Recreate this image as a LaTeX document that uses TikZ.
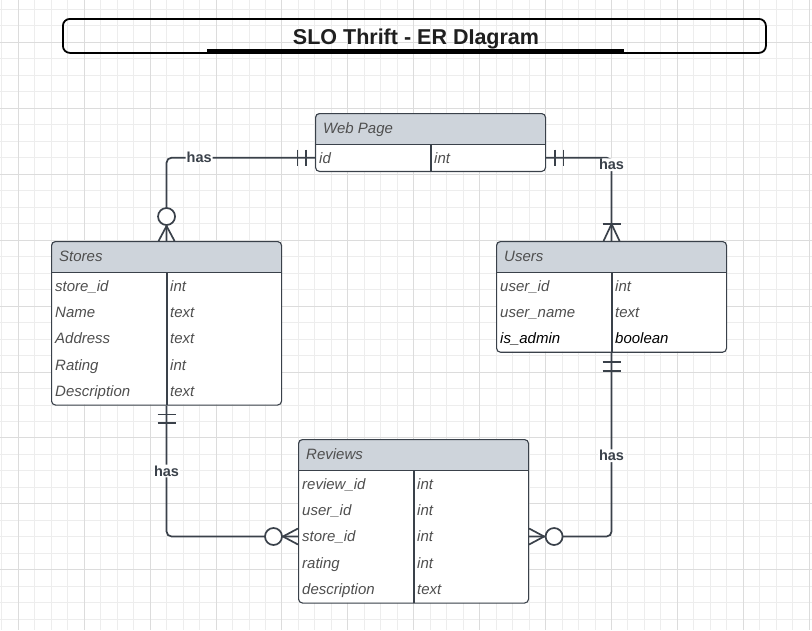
\documentclass[tikz,border=0pt]{standalone}
\usepackage{fontspec}
\setmainfont{Liberation Sans}
\usetikzlibrary{calc}
\definecolor{ln}{HTML}{3A414A}
\definecolor{hdr}{HTML}{CED4DB}
\definecolor{txt}{HTML}{4F4F4F}
\definecolor{gmin}{HTML}{EDEDED}
\definecolor{gmaj}{HTML}{DCDCDC}

\newcommand{\ERent}[6]{%
  \pgfmathsetmacro\enth{31.5+26.4*#4}%
  \begin{scope}
    \clip[rounded corners=4pt] (#2,#3) rectangle ++(230,\enth);
    \fill[white] (#2,#3) rectangle ++(230,\enth);
    \fill[hdr] (#2,#3) rectangle ++(230,31.5);
  \end{scope}
  \node[entity, minimum width=230pt, minimum height=\enth pt] (#1) at (#2,#3) {};
  \draw[ln, line width=1.1pt] (#2,#3+31.5) -- ++(230,0);
  \draw[ln, line width=1.1pt] (#2+116,#3+31.5) -- (#2+116,#3+\enth);
  \node[fld] (#1-title) at (#2+8,#3+15.5+5.3) {#5};
  \foreach \fn/\ft [count=\i] in {#6} {
    \node[fld] (#1-f\i) at (#2+4, #3+31.5+26.4*\i-13.2+5.3) {\fn};
    \node[fld] (#1-t\i) at (#2+119, #3+31.5+26.4*\i-13.2+5.3) {\ft};
  }%
}

\begin{document}
\begin{tikzpicture}[x=1pt,y=-1pt,
  conn/.style={draw=ln, line width=1.7pt, rounded corners=5pt},
  endmark/.style={draw=ln, line width=1.7pt},
  lbl/.style={font=\fontsize{14.5}{17}\selectfont\bfseries, text=ln, fill=white, inner sep=1pt},
  entity/.style={draw=ln, line width=1.1pt, rounded corners=4pt, anchor=north west, inner sep=0pt},
  fld/.style={font=\fontsize{15}{18}\selectfont\itshape, text=txt, anchor=base west, inner sep=0pt},
]
\useasboundingbox (0,0) rectangle (812,630);
\fill[white] (0,0) rectangle (812,630);
% grid
\foreach \k in {0,...,49} {\draw[gmin, line width=0.9pt] ({1.8+16.477*\k},0) -- ({1.8+16.477*\k},630);}
\foreach \k in {0,...,37} {\draw[gmin, line width=0.9pt] (0,{9.3+16.486*\k}) -- (812,{9.3+16.486*\k});}
\foreach \m in {0,...,12} {\draw[gmaj, line width=1pt] ({18.3+65.91*\m},0) -- ({18.3+65.91*\m},630);}
\foreach \m in {0,...,8} {\draw[gmaj, line width=1pt] (0,{42.3+65.94*\m}) -- (812,{42.3+65.94*\m});}

% title
\node[draw=black, line width=1.8pt, rounded corners=7pt, minimum width=703pt, minimum height=34pt, anchor=north west, inner sep=0pt] (titlebox) at (62,18) {};
\node[font=\fontsize{21.5}{26}\selectfont\bfseries, text=black!88, anchor=base, inner sep=0pt] (title) at (416,44) {SLO Thrift - ER DIagram};
\draw[black, line width=2.5pt] (207,50.3) -- (624,50.3);

% entities
\ERent{web}{315}{113}{1}{Web Page}{id/int}
\ERent{stores}{51}{241}{5}{Stores}{store\_id/int, Name/text, Address/text, Rating/int, Description/text}
\ERent{users}{496}{241}{3}{Users}{user\_id/int, user\_name/text, {\color{black}is\_admin}/{\color{black}boolean}}
\ERent{rev}{298}{439}{5}{Reviews}{review\_id/int, user\_id/int, store\_id/int, rating/int, description/text}

\coordinate (wpL) at ($(web-f1.base west -| web.west)+(0,-5.3)$);
\coordinate (wpR) at ($(web-f1.base west -| web.east)+(0,-5.3)$);
\coordinate (revL) at ($(rev-f3.base west -| rev.west)+(0,-5.3)$);
\coordinate (revR) at ($(rev-f3.base west -| rev.east)+(0,-5.3)$);

% connectors
\draw[conn] (wpL) -| node[lbl, pos=0.39]{has} (stores.north);
\draw[conn] (wpR) -| node[lbl, pos=0.5, yshift=-7pt]{has} (users.north);
\draw[conn] (stores.south) |- node[lbl, pos=0.25]{has} (revL);
\draw[conn] (users.south) |- node[lbl, pos=0.28]{has} (revR);

% ends: web page left (one and only one)
\draw[endmark] ($(wpL)+(-9,-8)$) -- ++(0,16);
\draw[endmark] ($(wpL)+(-17.5,-8)$) -- ++(0,16);
% web page right
\draw[endmark] ($(wpR)+(9,-8)$) -- ++(0,16);
\draw[endmark] ($(wpR)+(17.5,-8)$) -- ++(0,16);
% stores top (zero or many)
\draw[endmark] ($(stores.north)+(-8,0)$) -- ($(stores.north)+(0,-15)$) -- ($(stores.north)+(8,0)$);
\draw[endmark, fill=white] ($(stores.north)+(0,-24.5)$) circle[radius=8.5pt];
% users top (one or many)
\draw[endmark] ($(users.north)+(-8,0)$) -- ($(users.north)+(0,-17)$) -- ($(users.north)+(8,0)$);
\draw[endmark] ($(users.north)+(-9,-17)$) -- ++(18,0);
% stores bottom (one and only one)
\draw[endmark] ($(stores.south)+(-9,9)$) -- ++(18,0);
\draw[endmark] ($(stores.south)+(-9,17.5)$) -- ++(18,0);
% users bottom
\draw[endmark] ($(users.south)+(-9,9.5)$) -- ++(18,0);
\draw[endmark] ($(users.south)+(-9,18)$) -- ++(18,0);
% reviews left (zero or many)
\draw[endmark] ($(revL)+(0,-8)$) -- ($(revL)+(-15,0)$) -- ($(revL)+(0,8)$);
\draw[endmark, fill=white] ($(revL)+(-24.5,0)$) circle[radius=8.5pt];
% reviews right
\draw[endmark] ($(revR)+(0,-8)$) -- ($(revR)+(15,0)$) -- ($(revR)+(0,8)$);
\draw[endmark, fill=white] ($(revR)+(25,0)$) circle[radius=8.5pt];
\end{tikzpicture}
\end{document}
